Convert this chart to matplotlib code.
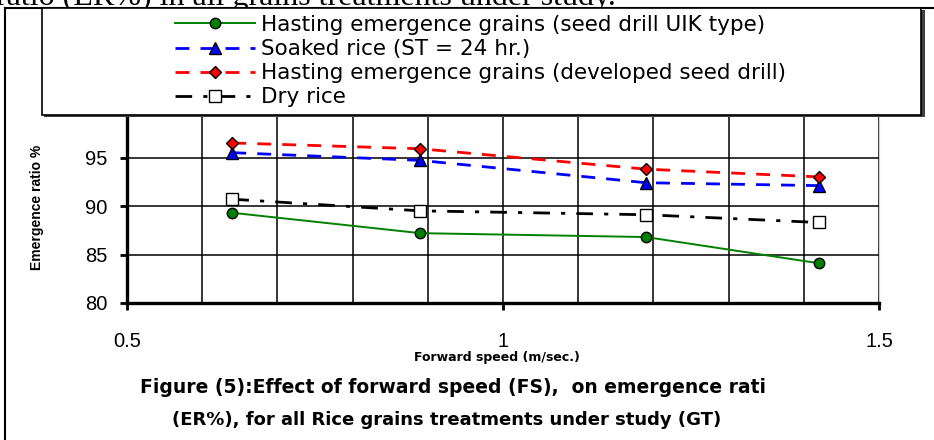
import matplotlib
matplotlib.use("Agg")
import matplotlib.pyplot as plt
from matplotlib.lines import Line2D
from matplotlib.patches import Rectangle

# ── Veriler ───────────────────────────────────────────────────────────────────
speed = [0.64, 0.89, 1.19, 1.42]            # forward speed (m/sec.)
hasting_uik = [89.3, 87.2, 86.8, 84.1]      # seed drill UIK type
soaked = [95.5, 94.7, 92.4, 92.1]           # ST = 24 hr.
hasting_dev = [96.5, 95.9, 93.8, 93.0]      # developed seed drill
dry = [90.7, 89.5, 89.1, 88.3]

labels = [
    "Hasting emergence grains (seed drill UIK type)",
    "Soaked rice (ST = 24 hr.)",
    "Hasting emergence grains (developed seed drill)",
    "Dry rice",
]
x_ticks = [0.5, 1.0, 1.5]
x_ticklabels = ["0.5", "1", "1.5"]
y_ticks = [80, 85, 90, 95, 100]

W, H = 934, 440
plt.rcParams["font.family"] = ["Liberation Sans", "DejaVu Sans"]


def fx(px):
    return px / W


def fy(py):
    return 1 - py / H


fig = plt.figure(figsize=(W / 100, H / 100), dpi=100)
ax = fig.add_axes([fx(127), fy(303), fx(879) - fx(127), fy(109) - fy(303)])

ax.plot(speed, hasting_uik, color="#008000", lw=1.4, marker="o", ms=7.5,
        mfc="#008000", mec="black", mew=1.0, label=labels[0], zorder=3)
ax.plot(speed, soaked, color="#0000ff", lw=2.0, dashes=(5, 4), marker="^", ms=9,
        mfc="#0000ff", mec="black", mew=1.0, label=labels[1], zorder=3)
ax.plot(speed, hasting_dev, color="#ff0000", lw=2.0, dashes=(5, 4), marker="D", ms=6.5,
        mfc="#ff0000", mec="black", mew=1.0, label=labels[2], zorder=3)
ax.plot(speed, dry, color="black", lw=2.0, dashes=(6, 4, 1.5, 4), marker="s", ms=8,
        mfc="white", mec="black", mew=1.0, label=labels[3], zorder=3)

ax.set_xlim(0.5, 1.5)
ax.set_ylim(80, 100)
ax.set_xticks(x_ticks)
ax.set_xticklabels(x_ticklabels)
ax.set_xticks([0.6 + 0.1 * i for i in range(9)], minor=True)
ax.set_yticks(y_ticks)
ax.grid(which="both", axis="x", color="black", lw=1.1)
ax.grid(which="major", axis="y", color="black", lw=1.1)
ax.set_axisbelow(True)

ax.tick_params(axis="x", which="major", direction="out", length=5, width=2,
               pad=16, labelsize=14.5)
ax.tick_params(axis="x", which="minor", length=0)
ax.tick_params(axis="y", direction="out", length=5, width=2, pad=9, labelsize=14.5)

for side in ("left", "bottom"):
    ax.spines[side].set_linewidth(2.4)
ax.spines["right"].set_color("#d0d0d0")
ax.spines["right"].set_linewidth(0.8)
ax.spines["top"].set_visible(False)

# eksen başlıkları
fig.text(fx(37), fy(207), "Emergence ratio %", rotation=90, fontsize=10,
         fontweight="bold", ha="center", va="center")
fig.text(fx(497), fy(357), "Forward speed (m/sec.)", fontsize=9,
         fontweight="bold", family="DejaVu Sans", ha="center", va="center")

# şekil altyazısı
fig.text(fx(453), fy(387), "Figure (5):Effect of forward speed (FS),  on emergence rati",
         fontsize=13.5, fontweight="bold", family="DejaVu Sans",
         ha="center", va="center")
fig.text(fx(447), fy(420), "(ER%), for all Rice grains treatments under study (GT)",
         fontsize=13, fontweight="bold", family="DejaVu Sans",
         ha="center", va="center")

# üstte kesilmiş metin satırı
fig.text(fx(-4), fy(5), "ratio (ER%) in all grains treatments under study.",
         fontsize=23, family="Liberation Serif", ha="left", va="baseline")

# dış çerçeve
fig.add_artist(Line2D([fx(5), fx(5)], [fy(8), 0], color="black", lw=1.5,
                      transform=fig.transFigure))
fig.add_artist(Line2D([fx(5), 1], [fy(8), fy(8)], color="black", lw=1.5,
                      transform=fig.transFigure))

# lejant kutusu (gölgeli)
fig.add_artist(Rectangle((fx(44), fy(117)), fx(923) - fx(42), fy(10) - fy(117),
                         transform=fig.transFigure, facecolor="#404040",
                         edgecolor="none", zorder=4))
fig.add_artist(Rectangle((fx(42), fy(115)), fx(921) - fx(42), fy(8) - fy(115),
                         transform=fig.transFigure, facecolor="white",
                         edgecolor="black", lw=1.2, zorder=5))

leg = fig.legend(loc="upper left", bbox_to_anchor=(fx(175), fy(15)),
                 frameon=False, prop={"family": "DejaVu Sans", "size": 15.5},
                 handlelength=3.7, handletextpad=0.3, labelspacing=0.19,
                 borderpad=0, borderaxespad=0, numpoints=1)
leg.set_zorder(6)

fig.savefig("out.png", dpi=100)
